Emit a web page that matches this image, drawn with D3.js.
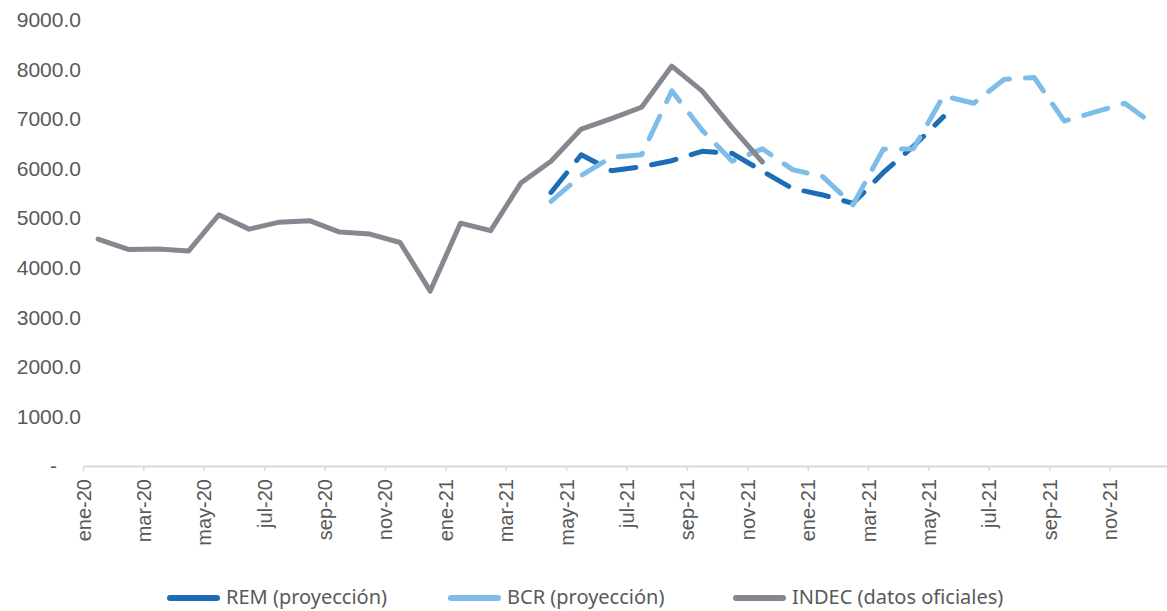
<!DOCTYPE html>
<html lang="es">
<head>
<meta charset="UTF-8">
<title>REM, BCR e INDEC</title>
<script src="https://d3js.org/d3.v7.min.js"></script>
<style>
  body { margin:0; background:#fff; }
  svg { display:block; font-family:"Noto Sans", sans-serif; }
  .axis text { fill:#595959; }
  .legend text { fill:#595959; font-size:20px; }
</style>
</head>
<body>
<svg width="1167" height="611"></svg>
<script>
// categorías (tal como aparecen en el eje)
const months = [
  'ene-20','feb-20','mar-20','abr-20','may-20','jun-20','jul-20','ago-20','sep-20','oct-20','nov-20','dic-20',
  'ene-21','feb-21','mar-21','abr-21','may-21','jun-21','jul-21','ago-21','sep-21','oct-21','nov-21','dic-21',
  'ene-21','feb-21','mar-21','abr-21','may-21','jun-21','jul-21','ago-21','sep-21','oct-21','nov-21','dic-21'
];
const N = null;
const indec = [4580,4370,4380,4340,5070,4780,4920,4950,4720,4680,4510,3530,
               4900,4750,5710,6150,6800,7010,7240,8070,7570,6830,6135,N,
               N,N,N,N,N,N,N,N,N,N,N,N];
const rem   = [N,N,N,N,N,N,N,N,N,N,N,N,
               N,N,N,5520,6280,5960,6040,6160,6350,6310,5950,5600,
               5470,5300,5920,6450,7050,N,N,N,N,N,N,N];
const bcr   = [N,N,N,N,N,N,N,N,N,N,N,N,
               N,N,N,5340,5860,6230,6280,7570,6780,6150,6400,5980,
               5840,5270,6390,6400,7470,7320,7800,7840,6960,7140,7320,6870];
const yTicks = [0,1000,2000,3000,4000,5000,6000,7000,8000,9000];

const series = [
  { name:'REM (proyección)',          values:rem,   color:'#1c6db5', dash:'25,16' },
  { name:'BCR (proyección)',          values:bcr,   color:'#7fbde8', dash:'25,16' },
  { name:'INDEC (datos oficiales)',   values:indec, color:'#85888f', dash:null }
];

const svg = d3.select('svg');
const x0 = 83, x1 = 1170, yTop = 20, yBase = 466;

const x = d3.scaleBand().domain(d3.range(months.length)).range([x0, x1]);
const xEdge = d3.scaleLinear().domain([0, months.length]).range([x0, x1]);
const y = d3.scaleLinear().domain([0, 9000]).range([yBase, yTop]);

// eje Y (solo etiquetas)
const yAxis = svg.append('g')
  .attr('class','axis')
  .attr('transform', `translate(${x0 - 2},0)`)
  .call(d3.axisLeft(y).tickValues(yTicks).tickSize(0).tickPadding(0)
    .tickFormat(d => d === 0 ? '-' : d3.format('.1f')(d)));
yAxis.select('.domain').remove();
yAxis.selectAll('text').style('font-size','21px')
  .attr('x', d => d === 0 ? -24 : 0);

// eje X
const xAxis = svg.append('g')
  .attr('class','axis')
  .attr('transform', `translate(0,${yBase})`)
  .call(d3.axisBottom(xEdge).tickValues(d3.range(0, months.length, 2))
    .tickFormat(i => months[i]).tickSize(5).tickSizeOuter(0));
xAxis.select('.domain').attr('stroke','#d9d9d9').attr('stroke-width',2);
xAxis.selectAll('.tick line').attr('stroke','#d9d9d9').attr('stroke-width',1.5);
xAxis.selectAll('.tick text')
  .style('font-size','20px')
  .attr('text-anchor','end')
  .attr('transform','rotate(-90)')
  .attr('x', -13)
  .attr('y', 0)
  .attr('dy','0.35em');

// líneas
const line = d3.line()
  .defined(d => d != null)
  .x((d, i) => x(i) + x.bandwidth() / 2)
  .y(d => y(d));

svg.append('g')
  .selectAll('path')
  .data(series)
  .join('path')
  .attr('fill','none')
  .attr('stroke', d => d.color)
  .attr('stroke-width', 5)
  .attr('stroke-linejoin','round')
  .attr('stroke-linecap','round')
  .attr('stroke-dasharray', d => d.dash)
  .attr('d', d => line(d.values));

// leyenda
const legendPos = [167, 448, 733];
const lg = svg.append('g').attr('class','legend')
  .selectAll('g')
  .data(series)
  .join('g')
  .attr('transform', (d, i) => `translate(${legendPos[i]},598)`);
lg.append('line')
  .attr('x1', 3).attr('x2', 50)
  .attr('stroke', d => d.color)
  .attr('stroke-width', 6)
  .attr('stroke-linecap','round');
lg.append('text')
  .attr('x', 59)
  .attr('dy','0.3em')
  .text(d => d.name);
</script>
</body>
</html>
